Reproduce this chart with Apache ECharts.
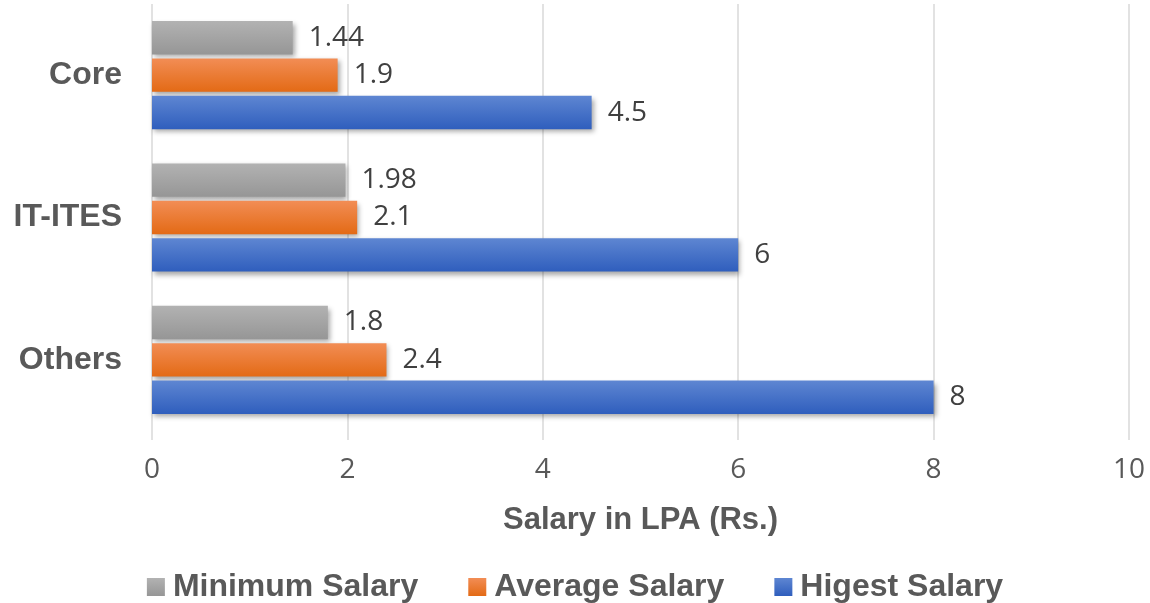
<!DOCTYPE html>
<html>
<head>
<meta charset="utf-8">
<script src="https://cdn.jsdelivr.net/npm/echarts@6/dist/echarts.min.js"></script>
<style>
  html, body { margin: 0; padding: 0; background: #fff; }
  #chart { width: 1150px; height: 603px; }
</style>
</head>
<body>
<div id="chart"></div>
<script>
// Salary by sector, in lakhs per annum
const categories = ['Core', 'IT-ITES', 'Others'];
const minimumSalary = [1.44, 1.98, 1.8];
const averageSalary = [1.9, 2.1, 2.4];
const highestSalary = [4.5, 6, 8];
const seriesNames = ['Minimum Salary', 'Average Salary', 'Higest Salary'];

function grad(top, bottom) {
  return new echarts.graphic.LinearGradient(0, 0, 0, 1, [
    { offset: 0, color: top },
    { offset: 1, color: bottom }
  ]);
}

const colors = [
  grad('#b2b2b2', '#969696'),
  grad('#f28d55', '#e36a15'),
  grad('#5e86d2', '#2f5ebd')
];

function makeSeries(name, data, color) {
  return {
    name: name,
    type: 'bar',
    data: data,
    barGap: '12%',
    barCategoryGap: '24%',
    itemStyle: {
      color: color,
      shadowColor: 'rgba(0,0,0,0.35)',
      shadowBlur: 5,
      shadowOffsetX: 2,
      shadowOffsetY: 3
    },
    label: {
      show: true,
      position: 'right',
      distance: 16,
      color: '#404040',
      fontSize: 28,
      fontFamily: 'Open Sans, sans-serif'
    }
  };
}

const chart = echarts.init(document.getElementById('chart'));
chart.setOption({
  animation: false,
  backgroundColor: '#ffffff',
  grid: { left: 152, right: 21, top: 4, bottom: 172, containLabel: false },
  legend: {
    top: 566,
    left: 'center',
    itemWidth: 18,
    itemHeight: 18,
    itemGap: 50,
    icon: 'rect',
    data: seriesNames,
    textStyle: {
      color: '#595959',
      fontSize: 32,
      fontWeight: 'bold',
      fontFamily: 'Liberation Sans, Arial, sans-serif',
      padding: [0, 0, 0, 3]
    }
  },
  xAxis: {
    type: 'value',
    min: 0,
    max: 10,
    interval: 2,
    name: 'Salary in LPA (Rs.)',
    nameLocation: 'middle',
    nameGap: 74,
    nameTextStyle: {
      color: '#595959',
      fontSize: 31,
      fontWeight: 'bold',
      fontFamily: 'Liberation Sans, Arial, sans-serif'
    },
    axisLine: { show: false },
    axisTick: { show: true, length: 9, lineStyle: { color: '#d9d9d9', width: 1.5 } },
    splitLine: { show: true, lineStyle: { color: '#d9d9d9', width: 1.5 } },
    axisLabel: {
      color: '#595959',
      fontSize: 28,
      margin: 25,
      fontFamily: 'Open Sans, sans-serif'
    }
  },
  yAxis: {
    type: 'category',
    data: categories,
    inverse: true,
    axisLine: { show: false },
    axisTick: { show: false },
    axisLabel: {
      color: '#595959',
      fontSize: 32,
      fontWeight: 'bold',
      margin: 30,
      fontFamily: 'Liberation Sans, Arial, sans-serif'
    }
  },
  series: [
    makeSeries(seriesNames[0], minimumSalary, colors[0]),
    makeSeries(seriesNames[1], averageSalary, colors[1]),
    makeSeries(seriesNames[2], highestSalary, colors[2])
  ]
});
</script>
</body>
</html>
